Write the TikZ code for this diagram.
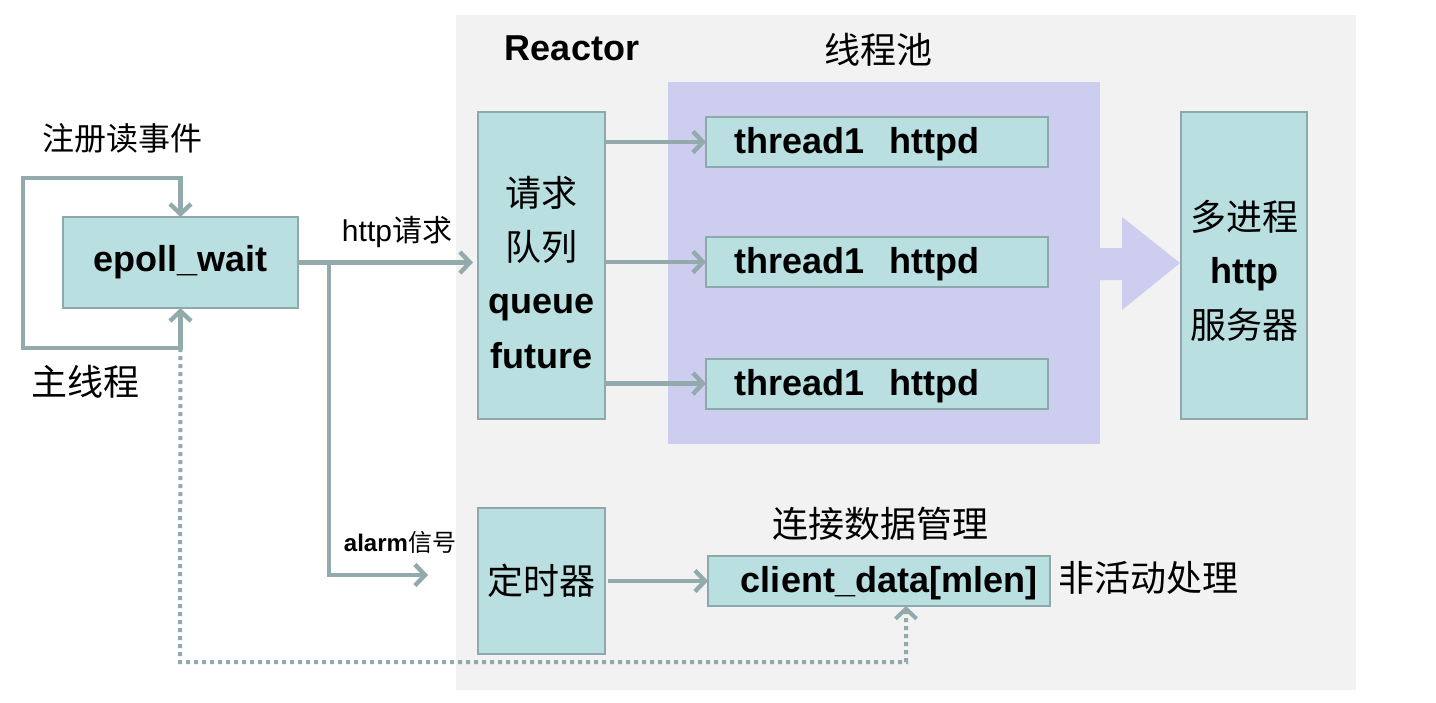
\documentclass[tikz,border=0pt]{standalone}
\usepackage{fontspec}
\setmainfont{Liberation Sans}
\newfontfamily\cjk{Noto Sans CJK SC}
\usetikzlibrary{arrows.meta}
\definecolor{bgc}{HTML}{F2F2F2}
\definecolor{poolc}{HTML}{CDCDF0}
\definecolor{boxf}{HTML}{B9DFE1}
\definecolor{boxb}{HTML}{8EA9AB}
\definecolor{linec}{HTML}{92AAAB}
\begin{document}
\begin{tikzpicture}[x=0.5pt,y=-0.5pt,
  every node/.style={inner sep=0pt,outer sep=0pt},
  box/.style={draw=boxb,fill=boxf,line width=1pt},
  big/.style={font=\fontsize{18}{22}\selectfont},
  bigb/.style={font=\fontsize{18}{22}\selectfont\bfseries},
  wide/.style={box,bigb,minimum width=171pt,minimum height=25pt,text height=15.5pt,text depth=3.8pt},
  tip/.style={-{Straight Barb[length=5pt,width=10.5pt]}},
  conn/.style={draw=linec,line width=2.2pt,tip},
  dotconn/.style={draw=linec,line width=2pt,dash pattern=on 2pt off 2pt,tip}]
\useasboundingbox (0,0) rectangle (1436,702);
\fill[white] (0,0) rectangle (1436,702);
\fill[bgc] (456,15) rectangle (1356,690);
% thread pool
\node[fill=poolc,minimum width=216pt,minimum height=181pt] (pool) at (884,263) {};
\fill[poolc] (1099,248) -- (1122,248) -- (1122,217) -- (1180,263) -- (1122,310) -- (1122,280) -- (1099,280) -- cycle;
\node[bigb] (reactor) at (572,48) {Reactor};
\node[big] (pooltitle) at (878,50) {\cjk 线程池};
% boxes
\node[box,minimum width=117.5pt,minimum height=45.5pt,bigb] (epoll) at (180.5,262.5) {epoll\_wait};
\node[box,minimum width=63.5pt,minimum height=153.5pt] (queue) at (541.5,265.5) {};
\node[big] (q1) at (541.5,193) {\cjk 请求};
\node[big] (q2) at (541.5,247) {\cjk 队列};
\node[bigb] (q3) at (541.5,308) {queue};
\node[bigb] (q4) at (541.5,356) {future};
\node[wide] (t1) at (877,142) {thread1\hspace{0.7em}httpd\hspace{20pt}\mbox{}};
\node[wide] (t2) at (877,262) {thread1\hspace{0.7em}httpd\hspace{20pt}\mbox{}};
\node[wide] (t3) at (877,383.5) {thread1\hspace{0.7em}httpd\hspace{20pt}\mbox{}};
\node[box,minimum width=63pt,minimum height=153.5pt] (server) at (1244,265.5) {};
\node[big] (s1) at (1244,217) {\cjk 多进程};
\node[bigb] (s2) at (1244,274) {http};
\node[big] (s3) at (1244,325) {\cjk 服务器};
\node[box,minimum width=63.5pt,minimum height=73pt,big] (timer) at (541.5,581) {\cjk 定时器};
\node[wide] (client) at (879,581) {\hspace{10pt}client\_data[mlen]};
% labels
\node[font=\fontsize{16}{20}\selectfont] (reg) at (122,138) {\cjk 注册读事件};
\node[big] (mainth) at (86,382) {\cjk 主线程};
\node[font=\fontsize{15}{18}\selectfont] (httpreq) at (397,232) {http{\cjk 请求}};
\node[font=\fontsize{12}{15}\selectfont] (alarm) at (400,542) {\textbf{alarm}{\cjk 信号}};
\node[big] (conmgr) at (880,524) {\cjk 连接数据管理};
\node[big,anchor=west] (inact) at (1058,578) {\cjk 非活动处理};
% connectors
\draw[draw=linec,line width=2.2pt,{Straight Barb[length=5pt,width=10.5pt]}-{Straight Barb[length=5pt,width=10.5pt]}]
  (epoll.south) -- ++(0,40) coordinate (loopb) -| (23,178) -| (epoll.north);
\draw[conn,shorten >=2.5pt] (epoll.east) -- (epoll.east -| queue.west);
\coordinate (br) at (329,262.5);
\coordinate (alarmend) at (428,575);
\draw[conn] (br) |- (alarmend);
\draw[conn] (queue.east |- t1.west) -- (t1.west);
\draw[conn] (queue.east |- t2.west) -- (t2.west);
\draw[conn] (queue.east |- t3.west) -- (t3.west);
\draw[conn,shorten <=1.5pt] (timer) -- (client);
\draw[dotconn] (loopb) -- (180,662) -| ([xshift=13.5pt]client.south);
\end{tikzpicture}
\end{document}
